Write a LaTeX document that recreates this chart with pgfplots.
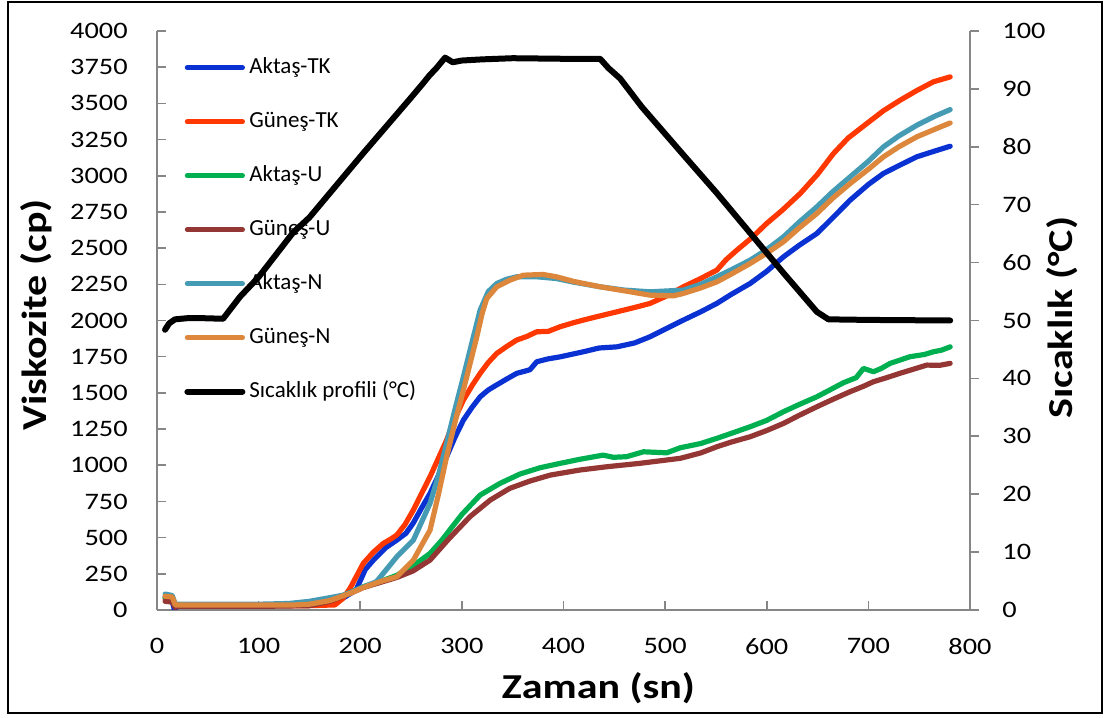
\documentclass[border=0pt]{standalone}
\usepackage{pgfplots}
\pgfplotsset{compat=1.18}
\usepackage{fontspec}
\setmainfont{Carlito}
\newfontfamily\stretchfont{Carlito}[FakeStretch=1.2]
\definecolor{axgray}{RGB}{134,134,134}
\definecolor{cblue}{RGB}{10,50,210}
\definecolor{cred}{RGB}{255,55,0}
\definecolor{cgreen}{RGB}{0,176,80}
\definecolor{cbrown}{RGB}{148,54,52}
\definecolor{cteal}{RGB}{70,155,180}
\definecolor{corange}{RGB}{220,135,60}

\pgfplotstableread{
x y
8 90
12 85
15 60
17 5
20 25
50 28
100 30
140 32
170 50
185 90
196 140
205 280
213 345
225 430
236 483
245 530
252 599
260 700
268.7 806
277 930
285 1059
293 1190
301.5 1312
310 1400
318 1473
326 1520
334 1554
344 1595
354 1635
362 1650
367 1660
373.7 1715
385 1735
396.7 1749
419.6 1784
435 1810
452.5 1818
470 1845
485.2 1888
500 1940
518 2003
535 2060
550.9 2118
565 2180
583.7 2256
600 2340
616.5 2440
632 2520
649.3 2601
665 2710
682 2831
700 2940
714.9 3016
730 3070
747.7 3131
765 3170
780.5 3204
}\aktasTK

\pgfplotstableread{
x y
8 75
15 70
18 20
20 28
100 30
150 30
175 35
183 80
190 150
203 322
213 400
222.7 460
230 490
236 518
244 590
252.3 691
260 800
268.7 921
277 1050
285 1174
293 1320
301.5 1450
310 1550
318 1635
326 1710
334.4 1773
344 1820
354 1865
364 1890
373.7 1922
385 1925
396.7 1957
410 1985
419.6 2003
435 2030
452.5 2060
470 2090
485.2 2118
500 2165
518 2233
535 2290
550.9 2348
560 2420
570.6 2486
585 2570
600 2671
615 2760
632.9 2877
650 3010
665.7 3154
680 3260
698.5 3361
715 3450
731.3 3522
748 3590
764 3649
780.5 3683
}\gunesTK

\pgfplotstableread{
x y
8 85
15 75
18 30
20 30
100 30
150 35
170 65
190 120
203 161
219.5 196
236 240
252 305
268.7 391
280 480
300 660
318 794
337.6 875
357 939
377 983
396.7 1013
416 1041
439 1070
449 1055
462 1059
478.7 1093
501.6 1086
515 1121
535 1150
550.9 1186
565 1220
583.7 1266
600 1310
616.5 1370
632 1420
649.3 1473
662 1520
675.5 1570
688 1605
695.2 1669
705 1646
713 1670
721.5 1704
741.1 1750
755 1765
764 1784
772 1795
780.5 1818
}\aktasU

\pgfplotstableread{
x y
8 60
15 55
18 20
20 25
100 25
150 30
170 60
190 115
203 155
219.5 190
236 225
252 270
268.7 345
287 490
308 645
328 760
347 840
367 891
387 932
416 967
443 990
475 1013
515 1048
535 1085
551 1128
565 1160
583.7 1197
600 1240
616.5 1289
632 1345
649.3 1404
665 1455
682 1508
695 1545
705 1577
718 1605
731 1635
745 1665
757.5 1692
770 1690
780.5 1704
}\gunesU

\pgfplotstableread{
x y
8 110
15 100
18 40
20 40
100 40
130 45
150 60
170 85
185 105
200 150
216 196
236 368
252.3 483
268.7 737
277 930
285 1151
293 1380
301.5 1611
310 1850
318 2072
326 2200
334.4 2256
344 2285
354 2302
373.7 2302
393 2290
410 2265
436 2233
460 2210
485.2 2198
518 2210
535 2250
550.9 2302
565 2350
583.7 2417
600 2490
616.5 2578
632 2680
649.3 2785
665 2890
682 2992
700 3100
714.9 3200
730 3275
747.7 3349
765 3410
780.5 3457
}\aktasN

\pgfplotstableread{
x y
8 95
15 90
18 35
20 35
100 35
136 35
150 40
170 65
190 115
203 155
219.5 196
236 230
252.3 345
268.7 552
277 800
285 1059
293 1290
301.5 1519
308 1700
314.7 1887
320 2050
324.5 2152
334.4 2233
347.4 2279
360.5 2313
380 2318
393 2302
410 2270
436 2233
460 2205
485.2 2175
508 2170
518 2187
535 2225
550.9 2267
565 2320
583.7 2394
600 2465
616.5 2544
632 2640
649.3 2739
665 2845
682 2946
700 3045
714.9 3131
730 3200
747.7 3269
765 3320
780.5 3365
}\gunesN

\pgfplotstableread{
x t
7.9 48.4
12 49.5
17.7 50.2
30 50.4
45 50.4
65 50.3
81.7 54.1
100 57.5
134 65.2
150 67.8
203 78.9
250 88.5
262 91
268 92.3
275 93.6
283.5 95.4
291 94.6
300 94.9
320 95.1
350 95.3
400 95.2
436 95.2
444.2 93.6
455.7 91.8
477 86.9
518 78.6
550.9 72.0
583.7 65.1
616.5 58.2
649.3 51.5
660.7 50.2
700 50.1
780.5 50.0
}\temp

\begin{document}
\begin{tikzpicture}
\useasboundingbox (-78.5pt,-54pt) rectangle (474pt,305pt);
\draw[black, line width=0.75pt] (-74.5pt,-51.5pt) rectangle (472.5pt,304pt);
\pgfplotsset{
  common/.style={
    at={(0pt,0pt)}, anchor=south west,
    scale only axis, width=406.5pt, height=289.5pt,
    xmin=0, xmax=800,
    axis line style={axgray, line width=0.8pt, -},
    major tick style={axgray, line width=0.8pt},
    major tick length=4.5pt,
    minor tick num=0,
    ticklabel style={font=\fontsize{11.8}{13}\stretchfont, text=black, inner sep=0pt},
    /pgf/number format/.cd, 1000 sep={}, assume math mode=true,
  },
}
\begin{axis}[common,
  axis x line*=bottom, axis y line*=left,
  tick align=inside,
  ymin=0, ymax=4000,
  xtick={0,100,...,800},
  ytick={0,250,...,4000},
  scaled ticks=false,
  xticklabel style={anchor=north, yshift=-14pt},
  yticklabel style={anchor=east, xshift=-14.5pt},
  every axis x label/.style={at={(axis description cs:0.543,-0.152)}, anchor=base},
  every axis y label/.style={at={(axis description cs:-0.1353,0.51)}, rotate=90, anchor=base},
  label style={font=\fontsize{17.5}{20}\stretchfont\bfseries},
  xlabel={Zaman (sn)},
  ylabel={Viskozite (cp)},
  legend cell align=left,
  legend style={draw=none, fill=none, at={(0.0332,0.9554)}, anchor=north west,
    inner sep=0pt, row sep=16.5pt, column sep=2pt,
    font=\fontsize{11.5}{13}\selectfont,
    nodes={inner sep=0pt, text height=8pt, text depth=2.5pt}},
  legend image code/.code={\draw[#1, line cap=round] (0pt,0pt) -- (27.5pt,0pt);},
  every axis plot/.append style={line cap=round, line join=round},
]
\addplot[cblue, line width=2.6pt] table {\aktasTK};
\addlegendentry{Aktaş-TK}
\addplot[cred, line width=2.6pt] table {\gunesTK};
\addlegendentry{Güneş-TK}
\addplot[cgreen, line width=2.6pt] table {\aktasU};
\addlegendentry{Aktaş-U}
\addplot[cbrown, line width=2.6pt] table {\gunesU};
\addlegendentry{Güneş-U}
\addplot[cteal, line width=2.6pt] table {\aktasN};
\addlegendentry{Aktaş-N}
\addplot[corange, line width=2.6pt] table {\gunesN};
\addlegendentry{Güneş-N}
\addlegendimage{black, line width=3pt}
\addlegendentry{Sıcaklık profili (°C)}
\end{axis}
\begin{axis}[common,
  axis x line=none, axis y line*=right,
  tick align=outside,
  ymin=0, ymax=100,
  ytick={0,10,...,100},
  yticklabel style={anchor=west, xshift=11.5pt},
  every axis y label/.style={at={(axis description cs:1.1267,0.505)}, rotate=90, anchor=base},
  label style={font=\fontsize{17.5}{20}\stretchfont\bfseries},
  ylabel={Sıcaklık (°C)},
]
\addplot[black, line width=3pt, line cap=round, line join=round] table[x=x, y=t] {\temp};
\end{axis}
\end{tikzpicture}
\end{document}
